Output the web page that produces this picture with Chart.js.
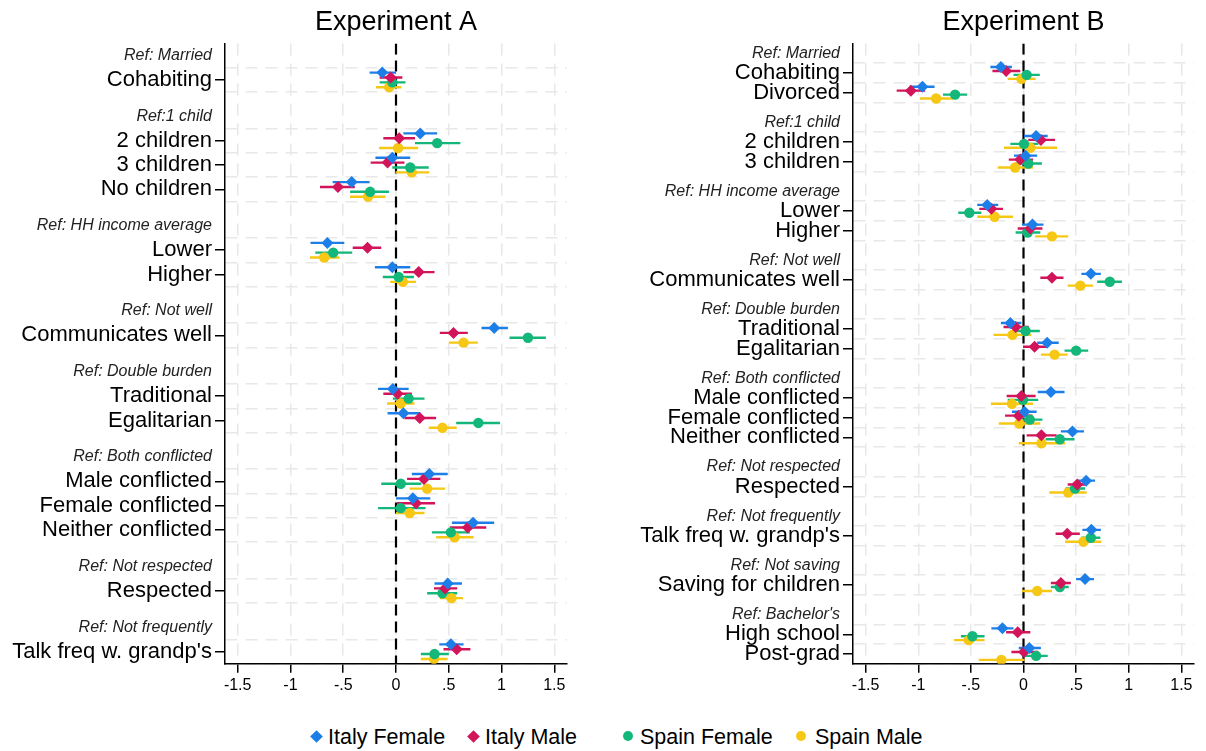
<!DOCTYPE html>
<html>
<head>
<meta charset="utf-8">
<script src="https://cdn.jsdelivr.net/npm/chart.js@4.4.0/dist/chart.umd.min.js"></script>
<style>
  body { margin: 0; background: #fff; width: 1206px; height: 751px; overflow: hidden;
         font-family: "Liberation Sans", Arial, sans-serif; }
  #panelA { position: absolute; left: 0; top: 0; }
  #panelB { position: absolute; left: 620px; top: 0; }
  .leg { position: absolute; top: 723px; font-size: 21.5px; line-height: 28px; color: #000; white-space: nowrap; }
  .leg i { position: absolute; top: 9px; }
</style>
</head>
<body>
<canvas id="panelA" width="600" height="700"></canvas>
<canvas id="panelB" width="586" height="700"></canvas>
<div id="legend"></div>
<script>
const FONT = '"Liberation Sans", Arial, sans-serif';

const seriesNames = ["Italy Female", "Italy Male", "Spain Female", "Spain Male"];
const seriesColors = ["#1e7ee8", "#d2145a", "#14b77a", "#f6c714"];
const seriesShapes = ["rectRot", "rectRot", "circle", "circle"];

const xTickValues = [-1.5, -1, -0.5, 0, 0.5, 1, 1.5];
const xTickLabels = ["-1.5", "-1", "-.5", "0", ".5", "1", "1.5"];

// Experiment A
const headingsA = ["Ref: Married", "Ref:1 child", "Ref: HH income average", "Ref: Not well",
  "Ref: Double burden", "Ref: Both conflicted", "Ref: Not respected", "Ref: Not frequently"];
const categoriesA = [
  ["Cohabiting"],
  ["2 children", "3 children", "No children"],
  ["Lower", "Higher"],
  ["Communicates well"],
  ["Traditional", "Egalitarian"],
  ["Male conflicted", "Female conflicted", "Neither conflicted"],
  ["Respected"],
  ["Talk freq w. grandp's"]
];
// [estimate, lower CI, upper CI]
const italyFemaleA = [[-0.13, -0.25, 0.00], [0.23, 0.07, 0.39], [-0.035, -0.195, 0.135], [-0.42, -0.60, -0.25],
  [-0.65, -0.81, -0.49], [-0.035, -0.20, 0.135], [0.93, 0.81, 1.06], [-0.03, -0.17, 0.12], [0.07, -0.08, 0.23],
  [0.315, 0.15, 0.49], [0.16, 0.0, 0.325], [0.73, 0.53, 0.93], [0.49, 0.365, 0.625], [0.52, 0.41, 0.64]];
const italyMaleA = [[-0.05, -0.155, 0.06], [0.03, -0.12, 0.18], [-0.08, -0.24, 0.08], [-0.55, -0.72, -0.39],
  [-0.27, -0.41, -0.14], [0.215, 0.07, 0.365], [0.545, 0.415, 0.68], [0.015, -0.12, 0.15], [0.225, 0.08, 0.38],
  [0.265, 0.105, 0.42], [0.19, 0.01, 0.37], [0.68, 0.51, 0.855], [0.465, 0.36, 0.58], [0.575, 0.45, 0.705]];
const spainFemaleA = [[-0.035, -0.155, 0.09], [0.39, 0.18, 0.61], [0.135, -0.035, 0.31], [-0.245, -0.435, -0.065],
  [-0.595, -0.765, -0.415], [0.025, -0.125, 0.17], [1.25, 1.075, 1.42], [0.12, -0.03, 0.27], [0.78, 0.57, 0.985],
  [0.045, -0.14, 0.24], [0.045, -0.17, 0.28], [0.52, 0.34, 0.70], [0.44, 0.295, 0.58], [0.365, 0.235, 0.50]];
const spainMaleA = [[-0.065, -0.19, 0.05], [0.02, -0.16, 0.21], [0.15, -0.005, 0.315], [-0.265, -0.435, -0.10],
  [-0.68, -0.815, -0.535], [0.065, -0.055, 0.19], [0.64, 0.50, 0.775], [0.045, -0.085, 0.175], [0.44, 0.31, 0.575],
  [0.295, 0.13, 0.465], [0.13, 0.0, 0.27], [0.555, 0.38, 0.735], [0.525, 0.415, 0.635], [0.36, 0.235, 0.49]];

// Experiment B
const headingsB = ["Ref: Married", "Ref:1 child", "Ref: HH income average", "Ref: Not well",
  "Ref: Double burden", "Ref: Both conflicted", "Ref: Not respected", "Ref: Not frequently",
  "Ref: Not saving", "Ref: Bachelor's"];
const categoriesB = [
  ["Cohabiting", "Divorced"],
  ["2 children", "3 children"],
  ["Lower", "Higher"],
  ["Communicates well"],
  ["Traditional", "Egalitarian"],
  ["Male conflicted", "Female conflicted", "Neither conflicted"],
  ["Respected"],
  ["Talk freq w. grandp's"],
  ["Saving for children"],
  ["High school", "Post-grad"]
];
const italyFemaleB = [[-0.215, -0.315, -0.11], [-0.96, -1.08, -0.845], [0.12, 0.005, 0.23], [0.02, -0.09, 0.13],
  [-0.345, -0.44, -0.24], [0.085, -0.015, 0.19], [0.64, 0.55, 0.735], [-0.125, -0.215, -0.02], [0.225, 0.13, 0.335],
  [0.26, 0.135, 0.39], [0.01, -0.11, 0.125], [0.465, 0.355, 0.575], [0.595, 0.515, 0.68], [0.645, 0.56, 0.735],
  [0.585, 0.50, 0.67], [-0.20, -0.305, -0.095], [0.055, -0.045, 0.165]];
const italyMaleB = [[-0.165, -0.295, -0.03], [-1.07, -1.205, -0.935], [0.165, 0.045, 0.30], [-0.03, -0.14, 0.09],
  [-0.305, -0.42, -0.195], [0.065, -0.055, 0.18], [0.27, 0.16, 0.38], [-0.075, -0.19, 0.05], [0.105, -0.005, 0.225],
  [-0.02, -0.16, 0.115], [-0.045, -0.175, 0.085], [0.17, 0.03, 0.315], [0.51, 0.42, 0.60], [0.415, 0.305, 0.535],
  [0.355, 0.26, 0.45], [-0.055, -0.165, 0.065], [0.005, -0.115, 0.14]];
const spainFemaleB = [[0.03, -0.095, 0.155], [-0.65, -0.765, -0.535], [0.005, -0.125, 0.14], [0.045, -0.08, 0.175],
  [-0.515, -0.62, -0.40], [0.04, -0.075, 0.16], [0.82, 0.70, 0.935], [0.02, -0.11, 0.155], [0.50, 0.39, 0.615],
  [-0.005, -0.15, 0.14], [0.06, -0.06, 0.18], [0.345, 0.21, 0.485], [0.49, 0.40, 0.585], [0.64, 0.55, 0.73],
  [0.345, 0.26, 0.43], [-0.485, -0.595, -0.37], [0.12, 0.01, 0.23]];
const spainMaleB = [[-0.02, -0.15, 0.115], [-0.83, -0.985, -0.67], [0.065, -0.185, 0.32], [-0.08, -0.245, 0.09],
  [-0.275, -0.44, -0.10], [0.27, 0.11, 0.425], [0.54, 0.42, 0.66], [-0.105, -0.285, 0.075], [0.295, 0.165, 0.42],
  [-0.11, -0.31, 0.09], [-0.04, -0.235, 0.16], [0.17, -0.045, 0.395], [0.425, 0.245, 0.60], [0.57, 0.395, 0.74],
  [0.13, -0.015, 0.27], [-0.52, -0.66, -0.37], [-0.21, -0.425, 0.01]];

function layoutRows(headings, cats) {
  const heads = [], items = [];
  let pos = -1;
  headings.forEach((h, g) => {
    heads.push({ v: pos, label: h });
    pos += 1;
    cats[g].forEach(c => { items.push({ v: pos, label: c }); pos += 1; });
    pos += 0.5;
  });
  return { heads, items };
}

function makePanel(id, title, headings, cats, series, axisWidth, padRight) {
  const rows = layoutRows(headings, cats);
  const yMax = rows.items[rows.items.length - 1].v + 0.5;
  const kind = new Map(), labelAt = new Map();
  rows.heads.forEach(h => { kind.set(h.v, "head"); labelAt.set(h.v, h.label); });
  rows.items.forEach(it => { kind.set(it.v, "item"); labelAt.set(it.v, it.label); });
  rows.items.forEach(it => {
    [it.v - 0.5, it.v + 0.5].forEach(b => { if (!kind.has(b)) { kind.set(b, "grid"); labelAt.set(b, ""); } });
  });
  const yTicks = [...kind.keys()].sort((a, b) => a - b);
  const kindOf = ctx => (ctx.tick ? kind.get(ctx.tick.value) : "item");

  const offsets = [-0.3, -0.1, 0.1, 0.3];
  const datasets = [];
  series.forEach((vals, s) => {
    datasets.push({
      type: "scatter", label: seriesNames[s],
      data: vals.map((r, i) => ({ x: r[0], y: rows.items[i].v + offsets[s] })),
      pointStyle: seriesShapes[s], pointRadius: s < 2 ? 6 : 5.2,
      backgroundColor: seriesColors[s], borderColor: seriesColors[s], borderWidth: 0, order: 0
    });
    const ci = [];
    vals.forEach((r, i) => {
      const y = rows.items[i].v + offsets[s];
      ci.push({ x: r[1], y }, { x: r[2], y }, { x: null, y: null });
    });
    datasets.push({
      type: "line", data: ci, borderColor: seriesColors[s], borderWidth: 2.4,
      pointRadius: 0, spanGaps: false, fill: false, order: 1
    });
  });
  datasets.push({
    type: "line", data: [{ x: 0, y: -1.5 }, { x: 0, y: yMax }], borderColor: "#000",
    borderWidth: 2.2, borderDash: [11, 6], pointRadius: 0, fill: false, order: 2
  });

  new Chart(document.getElementById(id), {
    type: "scatter",
    data: { datasets },
    options: {
      responsive: false,
      animation: false,
      events: [],
      layout: { padding: { left: 0, right: padRight, top: 0, bottom: 2 } },
      plugins: {
        legend: { display: false },
        tooltip: { enabled: false },
        title: {
          display: true, text: title, fullSize: false, color: "#000",
          font: { family: FONT, size: 27, weight: "normal" }, padding: { top: 6, bottom: 5 }
        }
      },
      scales: {
        x: {
          type: "linear", min: -1.62, max: 1.62,
          afterBuildTicks: sc => { sc.ticks = xTickValues.map(v => ({ value: v })); },
          ticks: {
            autoSkip: false, maxRotation: 0, padding: 3, color: "#000",
            font: { family: FONT, size: 16 },
            callback: v => xTickLabels[xTickValues.indexOf(v)]
          },
          grid: { color: "#e8e8e8", lineWidth: 1.5, tickColor: "#000", tickLength: 9, tickWidth: 1.5 },
          border: { color: "#000", width: 1.5, dash: [12, 8] }
        },
        y: {
          type: "linear", reverse: true, min: -1.5, max: yMax,
          afterBuildTicks: sc => { sc.ticks = yTicks.map(v => ({ value: v })); },
          afterFit: sc => { sc.width = axisWidth; },
          ticks: {
            autoSkip: false, padding: 3,
            callback: v => labelAt.get(v) || "",
            color: ctx => kindOf(ctx) === "head" ? "#222" : "#000",
            font: ctx => kindOf(ctx) === "head"
              ? { family: FONT, size: 16, style: "italic" }
              : { family: FONT, size: 22 }
          },
          grid: {
            lineWidth: 1.5, tickLength: 10, tickWidth: 1.5,
            color: ctx => kindOf(ctx) === "grid" ? "#e8e8e8" : "rgba(0,0,0,0)",
            tickColor: ctx => kindOf(ctx) === "item" ? "#000" : "rgba(0,0,0,0)"
          },
          border: { color: "#000", width: 1.5, dash: [12, 8] }
        }
      }
    }
  });
}

makePanel("panelA", "Experiment A", headingsA, categoriesA,
  [italyFemaleA, italyMaleA, spainFemaleA, spainMaleA], 225, 33);
makePanel("panelB", "Experiment B", headingsB, categoriesB,
  [italyFemaleB, italyMaleB, spainFemaleB, spainMaleB], 233, 12);

// legend
const legendTextLeft = [328, 485, 640, 815];
const legendMarkLeft = [316, 473, 628, 801];
const legend = document.getElementById("legend");
seriesNames.forEach((name, s) => {
  const d = document.createElement("div");
  d.className = "leg";
  d.style.left = legendTextLeft[s] + "px";
  d.textContent = name;
  const m = document.createElement("i");
  const off = legendMarkLeft[s] - legendTextLeft[s];
  if (seriesShapes[s] === "rectRot") {
    m.style.cssText = `left:${off - 4.5}px;top:9px;width:9px;height:9px;background:${seriesColors[s]};transform:rotate(45deg);`;
  } else {
    m.style.cssText = `left:${off - 5}px;top:8px;width:10px;height:10px;border-radius:50%;background:${seriesColors[s]};`;
  }
  d.appendChild(m);
  legend.appendChild(d);
});
</script>
</body>
</html>
